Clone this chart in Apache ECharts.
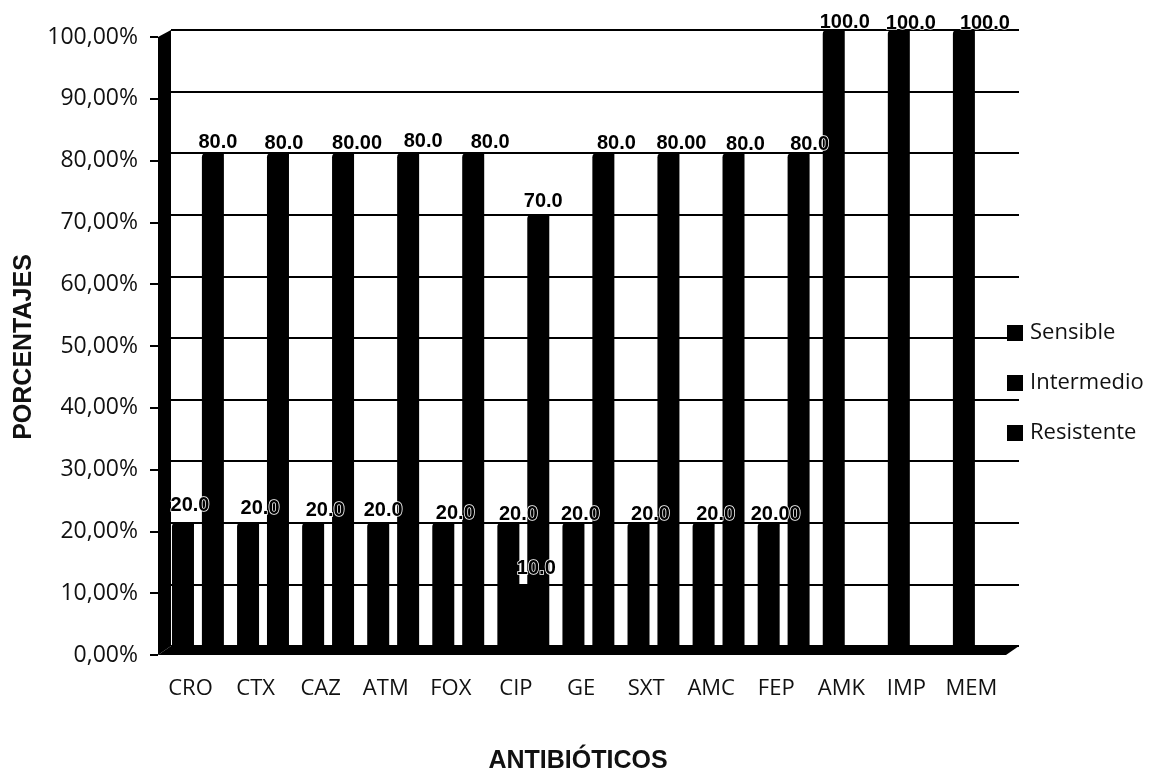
<!DOCTYPE html>
<html>
<head>
<meta charset="utf-8">
<style>html,body{margin:0;padding:0;background:#fff}#chart{width:1160px;height:774px}</style>
<script src="https://cdn.jsdelivr.net/npm/echarts@6/dist/echarts.min.js"></script>
</head>
<body>
<div id="chart"></div>
<script>
const categories = ['CRO','CTX','CAZ','ATM','FOX','CIP','GE','SXT','AMC','FEP','AMK','IMP','MEM'];
const sensible   = [20,20,20,20,20,20,20,20,20,20,100,100,100];
const intermedio = [null,null,null,null,null,10,null,null,null,null,null,null,null];
const resistente = [80,80,80,80,80,70,80,80,80,80,null,null,null];

// Decimal places printed on each value label
const sensibleDecimals   = [1,1,1,1,1,1,1,1,1,2,1,1,1];
const intermedioDecimals = [1,1,1,1,1,1,1,1,1,1,1,1,1];
const resistenteDecimals = [1,1,2,1,1,1,1,2,1,1,1,1,1];

// Hand placement of value labels relative to the top of each bar [dx, dy]
const sensibleNudge = [[7,-4],[12,-1],[12,1],[5,1],[12,4],[10,5],[7,5],[12,5],[12,5],[7,5],[11,5],[12,6],[21,6]];
const intermedioNudge = categories.map((c, i) => i === 5 ? [13, -3] : [0, 0]);
const resistenteNudge = [[5,2],[6,3],[14,3],[15,1],[17,2],[5,0],[13,3],[13,3],[12,4],[11,4],[0,0],[0,0],[0,0]];

const INK = '#000';
const DEPTH_X = 13;
const DEPTH_Y = 9;

function barSeries(name, values, decimals, nudge) {
  return {
    name, type: 'bar', xAxisIndex: 2, yAxisIndex: 2,
    barWidth: 22, barGap: '-32%',
    itemStyle: { color: INK, borderRadius: [4, 0, 0, 0] },
    z: 4,
    data: values.map((v, i) => ({
      value: v,
      label: {
        show: v !== null, position: 'top', distance: 3,
        offset: nudge[i],
        formatter: () => v.toFixed(decimals[i]),
        fontFamily: 'Liberation Sans', fontWeight: 'bold', fontSize: 20,
        color: INK, textBorderColor: '#fff', textBorderWidth: 1.5
      }
    }))
  };
}

// Black floor and left wall of the pseudo-3D plot box
function renderBox(params) {
  const b = params.coordSys;
  const left = b.x, right = b.x + b.width, top = b.y, bottom = b.y + b.height;
  const style = { fill: INK };
  return {
    type: 'group',
    children: [
      { type: 'polygon', style, shape: { points: [
        [left - DEPTH_X, bottom + DEPTH_Y], [right - DEPTH_X, bottom + DEPTH_Y], [right, bottom], [left, bottom]
      ] } },
      { type: 'polygon', style, shape: { points: [
        [left - DEPTH_X, top + 7], [left, top], [left, bottom], [left - DEPTH_X, bottom + DEPTH_Y]
      ] } }
    ]
  };
}

const hiddenCat = {
  type: 'category', data: categories, show: false
};

const option = {
  animation: false,
  backgroundColor: '#fff',
  grid: [
    { left: 158, top: 37, width: 846, height: 618, outerBoundsMode: 'none' },   // front edge: tick labels
    { left: 171, top: 30, width: 848, height: 616, outerBoundsMode: 'none' },   // back wall: gridlines
    { left: 165.4, top: 30, width: 846, height: 616, outerBoundsMode: 'none' }  // bars
  ],
  legend: {
    orient: 'vertical', left: 1007, top: 322, padding: 0,
    icon: 'rect', itemWidth: 16, itemHeight: 16, itemGap: 28, selectedMode: false,
    textStyle: { fontFamily: 'Open Sans', fontSize: 22, fontWeight: 500, color: '#111', padding: [0, 0, 0, 2] },
    data: ['Sensible', 'Intermedio', 'Resistente']
  },
  xAxis: [
    {
      gridIndex: 0, type: 'category', data: categories,
      axisLine: { show: false }, axisTick: { show: false },
      axisLabel: { margin: 23, fontFamily: 'Open Sans', fontSize: 22, fontWeight: 500, color: '#111', interval: 0 },
      name: 'ANTIBIÓTICOS', nameLocation: 'middle', nameGap: 94,
      nameTextStyle: { fontFamily: 'Liberation Sans', fontWeight: 'bold', fontSize: 25, color: '#111', padding: [0, 6, 0, 0] }
    },
    { ...hiddenCat, gridIndex: 1 },
    { ...hiddenCat, gridIndex: 2 }
  ],
  yAxis: [
    {
      gridIndex: 0, type: 'value', min: 0, max: 100, interval: 10,
      axisLine: { show: false },
      axisTick: { show: true, length: 8, lineStyle: { color: INK, width: 2 } },
      splitLine: { show: false },
      axisLabel: {
        margin: 20, fontFamily: 'Open Sans', fontSize: 23, fontWeight: 500, color: '#111',
        padding: [4, 0, 0, 0],
        formatter: v => v.toFixed(2).replace('.', ',') + '%'
      },
      name: 'PORCENTAJES', nameLocation: 'middle', nameGap: 119,
      nameTextStyle: { fontFamily: 'Liberation Sans', fontWeight: 'bold', fontSize: 25, color: '#111', padding: [0, 2, 0, 0] }
    },
    {
      gridIndex: 1, type: 'value', min: 0, max: 100, interval: 10,
      axisLine: { show: false }, axisTick: { show: false }, axisLabel: { show: false },
      splitLine: { show: true, lineStyle: { color: INK, width: 2 } }
    },
    {
      gridIndex: 2, type: 'value', min: 0, max: 100, interval: 10,
      axisLine: { show: false }, axisTick: { show: false }, axisLabel: { show: false },
      splitLine: { show: false }
    }
  ],
  series: [
    {
      type: 'custom', xAxisIndex: 1, yAxisIndex: 1, renderItem: renderBox,
      data: [[0, 0]], z: 3, silent: true, tooltip: { show: false }
    },
    barSeries('Sensible', sensible, sensibleDecimals, sensibleNudge),
    barSeries('Intermedio', intermedio, intermedioDecimals, intermedioNudge),
    barSeries('Resistente', resistente, resistenteDecimals, resistenteNudge)
  ]
};

echarts.init(document.getElementById('chart'), null, { renderer: 'canvas' }).setOption(option);
</script>
</body>
</html>
